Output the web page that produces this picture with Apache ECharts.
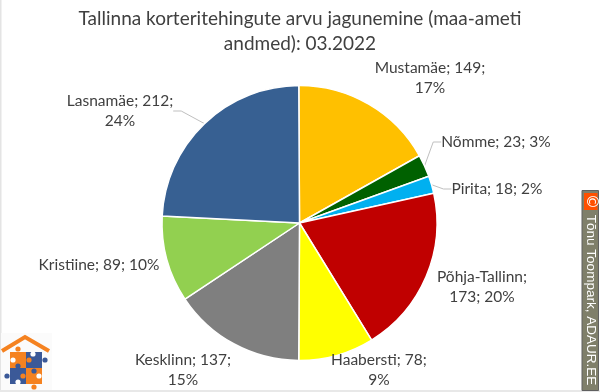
<!DOCTYPE html>
<html>
<head>
<meta charset="utf-8">
<style>html,body{margin:0;padding:0;background:#fff}#c{width:600px;height:392px}</style>
<script src="https://cdn.jsdelivr.net/npm/echarts@6/dist/echarts.min.js"></script>
</head>
<body>
<div id="c"></div>
<script>
const titleText = 'Tallinna korteritehingute arvu jagunemine (maa-ameti\nandmed): 03.2022';
const categories = ['Mustamäe','Nõmme','Pirita','Põhja-Tallinn','Haabersti','Kesklinn','Kristiine','Lasnamäe'];
const values = [149,23,18,173,78,137,89,212];
const colors = ['#FFC000','#006100','#00B0F0','#C00000','#FFFF00','#7F7F7F','#92D050','#376092'];
const singleLine = ['Nõmme','Pirita','Kristiine'];
const breakAfterName = ['Põhja-Tallinn'];
const leaderLines = ['Nõmme','Pirita','Lasnamäe'];
const labelCenters = [[430,78],[496,142],[497,189],[482,287],[379,370],[183,370],[99,265],[120,111]];
const creditText = 'Tõnu Toompark, ADAUR.EE';

const orange = '#F58220', blue = '#3B5998';
const knob = (x,y,fill) => ({type:'circle',shape:{cx:x,cy:y,r:2.6},style:{fill}});
const logo = [
  {type:'rect',shape:{x:1,y:333,width:51,height:57},style:{fill:'#FBFBFB'}},
  {type:'polyline',shape:{points:[[2,351],[25,337],[49,351]]},style:{stroke:orange,lineWidth:4,fill:'none'}},
  {type:'rect',shape:{x:10,y:352,width:16,height:16},style:{fill:orange}},
  {type:'rect',shape:{x:26,y:352,width:16,height:16},style:{fill:blue}},
  {type:'rect',shape:{x:10,y:368,width:16,height:16},style:{fill:blue}},
  {type:'rect',shape:{x:26,y:368,width:16,height:16},style:{fill:orange}},
  knob(18,349,orange),knob(45,360,blue),knob(7,376,blue),knob(34,387,orange),
  knob(29,360,orange),knob(18,366,blue),knob(34,371,blue),knob(23,376,orange),
  knob(33,354,'#fff'),knob(13,360,'#fff'),knob(39,376,'#fff'),knob(18,382,'#fff')
];

const labelText = p => {
  if (singleLine.includes(p.name)) return `${p.name}; ${p.value}; ${p.percent}%`;
  if (breakAfterName.includes(p.name)) return `${p.name};\n${p.value}; ${p.percent}%`;
  return `${p.name}; ${p.value};\n${p.percent}%`;
};

const chart = echarts.init(document.getElementById('c'), null, {renderer:'canvas'});
chart.setOption({
  animation:false,
  backgroundColor:'#fff',
  title:{text:titleText,left:295,top:1,textAlign:'center',
    textStyle:{fontFamily:'Lato',fontSize:19,fontWeight:'normal',color:'#404040',lineHeight:25,align:'center'}},
  series:[{
    type:'pie',
    center:[299.5,223],
    radius:[0,137.5],
    startAngle:90.3,
    clockwise:true,
    percentPrecision:0,
    minShowLabelAngle:0,
    avoidLabelOverlap:false,
    itemStyle:{borderColor:'#fff',borderWidth:1.5},
    label:{
      show:true,position:'outside',fontFamily:'Lato',fontSize:15.5,color:'#404040',lineHeight:20,
      align:'center',verticalAlign:'middle',
      formatter:labelText
    },
    labelLine:{show:false,length:8,length2:8,lineStyle:{color:'#BFBFBF',width:1}},
    labelLayout:p => ({x:labelCenters[p.dataIndex][0],y:labelCenters[p.dataIndex][1],align:'center',verticalAlign:'middle'}),
    data:categories.map((name,i)=>({
      name,value:values[i],itemStyle:{color:colors[i]},
      labelLine:{show:leaderLines.includes(name)}
    }))
  }],
  graphic:[
    {type:'rect',shape:{x:0,y:0,width:1.5,height:392},style:{fill:'#E4E4E4'},z:-1},
    {type:'rect',shape:{x:0,y:390,width:600,height:2},style:{fill:'#E8E8E8'},z:-1},
    ...logo,
    {type:'rect',shape:{x:582,y:190.5,width:16.5,height:200},style:{fill:'#7F7F6A',stroke:'#606060',lineWidth:1}},
    {type:'rect',shape:{x:584,y:193,width:13.5,height:17},style:{fill:'#FF5000'}},
    {type:'text',x:590.5,y:201.5,rotation:-Math.PI/2,style:{text:'©',fill:'#fff',fontFamily:'DejaVu Sans',fontSize:15,align:'center',verticalAlign:'middle'}},
    {type:'text',x:590.5,y:300,rotation:-Math.PI/2,style:{text:creditText,fill:'#fff',fontFamily:'Liberation Sans',fontSize:13.5,align:'center',verticalAlign:'middle'}}
  ]
});
</script>
</body>
</html>
